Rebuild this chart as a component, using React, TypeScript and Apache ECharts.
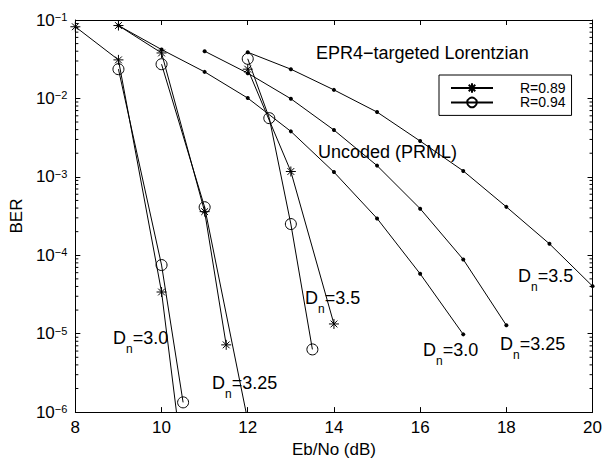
import React, { useEffect, useRef } from "react";
import * as echarts from "echarts";

// ---- data ----
const xTicks = [8, 10, 12, 14, 16, 18, 20];

// Uncoded (PRML) curves, D_n = 3.0 / 3.25 / 3.5
const uncX30 = [9, 10, 11, 12, 13, 14, 15, 16, 17];
const uncBer30 = [0.085, 0.042, 0.0218, 0.0101, 0.0038, 0.00115, 2.95e-4, 5.8e-5, 9.8e-6];
const uncX325 = [11, 12, 13, 14, 15, 16, 17, 18];
const uncBer325 = [0.04, 0.021, 0.0099, 0.00395, 0.00139, 3.93e-4, 8.85e-5, 1.28e-5];
const uncX35 = [12, 13, 14, 15, 16, 17, 18, 19, 20];
const uncBer35 = [0.0388, 0.0236, 0.01285, 0.0067, 0.00286, 0.00119, 4.14e-4, 1.4e-4, 4.04e-5];

// EPR4-targeted coded curves, R = 0.89 (asterisk) and R = 0.94 (circle)
const r89X30 = [8, 9, 10, 10.5];
const r89Ber30 = [0.082, 0.031, 3.4e-5, 2.1e-7];
const r94X30 = [9, 10, 10.5];
const r94Ber30 = [0.0236, 7.5e-5, 1.33e-6];
const r89X325 = [9, 10, 11, 11.5];
const r89Ber325 = [0.085, 0.038, 3.6e-4, 7.2e-6];
const r94X325 = [10, 11, 12];
const r94Ber325 = [0.0273, 4.1e-4, 7.8e-7];
const r89X35 = [12, 13, 14];
const r89Ber35 = [0.0236, 1.17e-3, 1.33e-5];
const r94X35 = [12, 12.5, 13, 13.5];
const r94Ber35 = [0.032, 0.0056, 2.5e-4, 6.3e-6];

const legendNames = ["R=0.89", "R=0.94"];
const decades = [-6, -5, -4, -3, -2];
const minorMultipliers = [2, 3, 4, 5, 6, 7, 8, 9];

const FONT = "'Liberation Sans', Arial, Helvetica, sans-serif";
const ASTERISK = "path://M5,0L5,10M0,5L10,5M1.6,1.6L8.4,8.4M1.6,8.4L8.4,1.6";

const zip = (xs: number[], ys: number[]) => xs.map((x, i) => [x, ys[i]]);

export default function App() {
  const ref = useRef<HTMLDivElement>(null);
  useEffect(() => {
    if (!ref.current) return;
    const chart = echarts.init(ref.current, null, { renderer: "svg" });

    const minorVals: number[][] = [];
    decades.forEach((d) =>
      minorMultipliers.forEach((m) => minorVals.push([8, m * Math.pow(10, d)]))
    );

    const uncoded = (data: number[][]) => ({
      type: "line",
      data,
      symbol: "circle",
      symbolSize: 4,
      itemStyle: { color: "#000" },
      lineStyle: { color: "#000", width: 1 },
      z: 3,
    });
    const ast = (data: number[][]) => ({
      type: "line",
      name: legendNames[0],
      data,
      symbol: ASTERISK,
      symbolSize: 10,
      itemStyle: { color: "#000", borderColor: "#000", borderWidth: 1 },
      lineStyle: { color: "#000", width: 1 },
      z: 4,
    });
    const circ = (data: number[][]) => ({
      type: "line",
      name: legendNames[1],
      data,
      symbol: "circle",
      symbolSize: 11,
      itemStyle: { color: "rgba(0,0,0,0)", borderColor: "#000", borderWidth: 1 },
      lineStyle: { color: "#000", width: 1 },
      z: 4,
    });

    const txt = (x: number, y: number, t: string, size: number) => ({
      type: "text",
      x,
      y,
      silent: true,
      style: { text: t, fontSize: size, fontFamily: FONT, fill: "#000", verticalAlign: "middle", align: "left" },
    });
    // D_n=value label; (x, y) is the top-left of the label block
    const dLabel = (x: number, y: number, val: string) => ({
      type: "group",
      silent: true,
      children: [
        txt(x, y + 9, "D", 18),
        txt(x + 13, y + 20, "n", 12),
        txt(x + 19.7, y + 9, "=" + val, 18),
      ],
    });

    const common = {
      min: 8,
      max: 20,
      interval: 2,
    };

    chart.setOption({
      animation: false,
      backgroundColor: "#fff",
      textStyle: { fontFamily: FONT },
      grid: { left: 71, right: 12, top: 20, bottom: 50, containLabel: false },
      legend: {
        data: legendNames,
        orient: "vertical",
        left: 439,
        top: 75,
        width: 134,
        padding: [6, 6, 6, 11],
        itemGap: 0.4,
        itemWidth: 42,
        itemHeight: 12,
        backgroundColor: "#fff",
        borderColor: "#000",
        borderWidth: 1,
        borderRadius: 0,
        textStyle: { fontSize: 14, lineHeight: 14, color: "#000", fontFamily: FONT, padding: [0, 0, 0, 22] },
      },
      xAxis: [
        {
          type: "value",
          ...common,
          name: "Eb/No (dB)",
          nameLocation: "middle",
          nameGap: 23,
          nameTextStyle: { fontSize: 17, color: "#000", fontFamily: FONT, verticalAlign: "top" },
          axisLine: { lineStyle: { color: "#000", width: 1 } },
          axisTick: { inside: true, length: 5, lineStyle: { color: "#000" } },
          axisLabel: {
            fontSize: 17,
            color: "#000",
            margin: 7,
            fontFamily: FONT,
            formatter: (v: number) => (xTicks.includes(v) ? String(v) : ""),
          },
          splitLine: { show: false },
        },
        {
          type: "value",
          ...common,
          position: "top",
          axisLine: { lineStyle: { color: "#000", width: 1 } },
          axisTick: { inside: true, length: 5, lineStyle: { color: "#000" } },
          axisLabel: { show: false },
          splitLine: { show: false },
        },
      ],
      yAxis: [
        {
          type: "log",
          logBase: 10,
          min: 1e-6,
          max: 1e-1,
          name: "BER",
          nameLocation: "middle",
          nameGap: 46,
          nameTextStyle: { fontSize: 17, color: "#000", fontFamily: FONT },
          axisLine: { lineStyle: { color: "#000", width: 1 } },
          axisTick: { inside: true, length: 5, lineStyle: { color: "#000" } },
          axisLabel: {
            margin: 8,
            color: "#000",
            formatter: (v: number) => {
              const e = Math.round(Math.log10(v));
              return `{b|10}{s|\u2212${-e}}`;
            },
            rich: {
              b: { fontSize: 17, lineHeight: 17, verticalAlign: "bottom", fontFamily: FONT, color: "#000" },
              s: { fontSize: 11, lineHeight: 11, padding: [0, 0, 12, 0], verticalAlign: "top", fontFamily: FONT, color: "#000" },
            },
          },
          splitLine: { show: false },
        },
        {
          type: "log",
          logBase: 10,
          min: 1e-6,
          max: 1e-1,
          position: "right",
          axisLine: { lineStyle: { color: "#000", width: 1 } },
          axisTick: { inside: true, length: 5, lineStyle: { color: "#000" } },
          axisLabel: { show: false },
          splitLine: { show: false },
        },
      ],
      series: [
        {
          type: "custom",
          silent: true,
          data: minorVals,
          encode: { x: 0, y: 1 },
          clip: false,
          z: 5,
          renderItem: (params: any, api: any) => {
            const cs = params.coordSys;
            const p = api.coord([api.value(0), api.value(1)]);
            return {
              type: "group",
              children: [
                { type: "line", shape: { x1: cs.x, y1: p[1], x2: cs.x + 3, y2: p[1] }, style: { stroke: "#000", lineWidth: 1 } },
                { type: "line", shape: { x1: cs.x + cs.width, y1: p[1], x2: cs.x + cs.width - 3, y2: p[1] }, style: { stroke: "#000", lineWidth: 1 } },
              ],
            };
          },
        },
        uncoded(zip(uncX30, uncBer30)),
        uncoded(zip(uncX325, uncBer325)),
        uncoded(zip(uncX35, uncBer35)),
        ast(zip(r89X30, r89Ber30)),
        circ(zip(r94X30, r94Ber30)),
        ast(zip(r89X325, r89Ber325)),
        circ(zip(r94X325, r94Ber325)),
        ast(zip(r89X35, r89Ber35)),
        circ(zip(r94X35, r94Ber35)),
      ],
      graphic: [
        txt(316, 53, "EPR4\u2212targeted Lorentzian", 18),
        txt(318, 152, "Uncoded (PRML)", 18),
        dLabel(113, 329, "3.0"),
        dLabel(212, 374, "3.25"),
        dLabel(305, 289, "3.5"),
        dLabel(423, 341, "3.0"),
        dLabel(500, 335, "3.25"),
        dLabel(518, 267, "3.5"),
      ],
    });
    return () => chart.dispose();
  }, []);
  return (
    <div
      ref={ref}
      style={{ position: "absolute", left: 0, top: 0, width: 605, height: 463, background: "#fff" }}
    />
  );
}
